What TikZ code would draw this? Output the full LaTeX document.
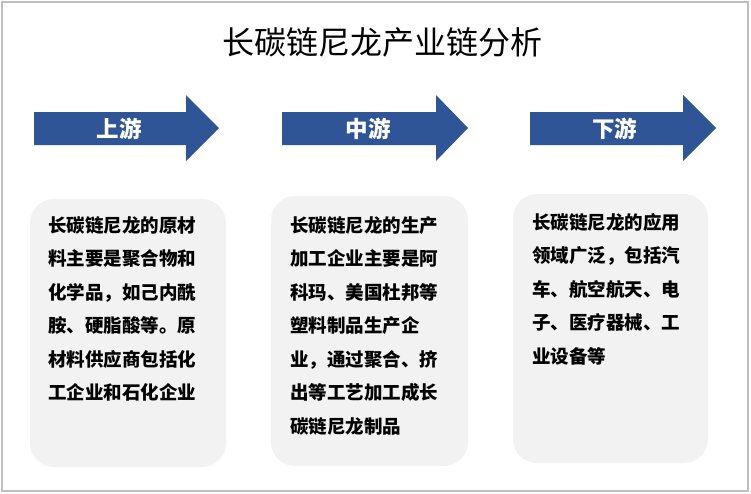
\documentclass[tikz,border=0pt]{standalone}
\usepackage{fontspec}
\setmainfont{Noto Sans CJK SC}
\definecolor{arrowblue}{HTML}{2F5597}
\definecolor{boxgray}{HTML}{F2F2F2}
\definecolor{framegray}{HTML}{BFBFBF}
\begin{document}
\begin{tikzpicture}[x=1pt,y=-1pt,
  stagearrow/.style={fill=arrowblue},
  stagelabel/.style={text=white,font=\fontsize{22.5}{24}\selectfont\bfseries,inner sep=0pt},
  infobox/.style={fill=boxgray,rounded corners=24pt},
  infotext/.style={align=left,anchor=north west,inner sep=0pt,font=\fontsize{18.5}{33.5}\selectfont\bfseries},
  titletext/.style={font=\fontsize{32}{34}\selectfont,inner sep=0pt}
]
\useasboundingbox (0,0) rectangle (751,493);
\draw[framegray,line width=2pt] (1.5,1.5) rectangle (748,491);
\node[titletext] (title) at (382.5,42) {长碳链尼龙产业链分析};
% arrows
\foreach \x/\b/\t/\name in {34/186/219/a1,282/436/468/a2,530/683/716/a3}{
  \fill[stagearrow] (\x,112) -- (\b,112) -- (\b,95) -- (\t,128) -- (\b,161) -- (\b,145) -- (\x,145) -- cycle;
}
\node[stagelabel] (l1) at (119,128.5) {上游};
\node[stagelabel] (l2) at (368,128.5) {中游};
\node[stagelabel] (l3) at (614.5,128.5) {下游};
% boxes
\fill[infobox] (30,199) rectangle (226,467);
\fill[infobox] (271,196) rectangle (468,466);
\fill[infobox] (513,194) rectangle (708,463);
\node[infotext] (t1) at (48,216) {长碳链尼龙的原材\\料主要是聚合物和\\化学品，如己内酰\\胺、硬脂酸等。原\\材料供应商包括化\\工企业和石化企业};
\node[infotext] (t2) at (290,216) {长碳链尼龙的生产\\加工企业主要是阿\\科玛、美国杜邦等\\塑料制品生产企\\业，通过聚合、挤\\出等工艺加工成长\\碳链尼龙制品};
\node[infotext] (t3) at (532,213) {长碳链尼龙的应用\\领域广泛，包括汽\\车、航空航天、电\\子、医疗器械、工\\业设备等};
\end{tikzpicture}
\end{document}
